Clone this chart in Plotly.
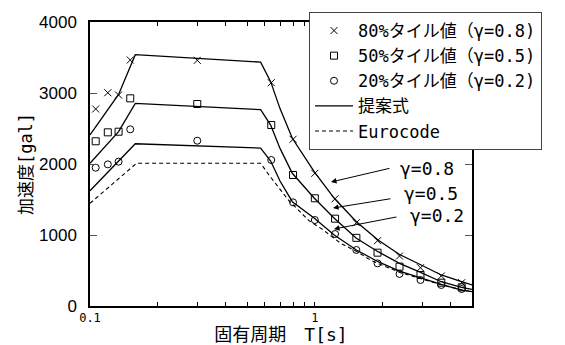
import plotly.graph_objects as go

# ---- observed percentile values (markers) ----
period_obs = [0.106, 0.12, 0.134, 0.151, 0.30, 0.64, 0.80, 1.0, 1.23, 1.53, 1.9, 2.38, 2.95, 3.65, 4.5]
acc_p80 = [2775, 3004, 2972, 3465, 3460, 3145, 2348, 1869, 1510, 1173, 920, 704, 539, 423, 328]
acc_p50 = [2320, 2446, 2455, 2925, 2845, 2549, 1845, 1517, 1230, 960, 751, 554, 437, 328, 263]
acc_p20 = [1948, 1995, 2033, 2488, 2328, 2056, 1460, 1211, 1014, 789, 601, 451, 366, 296, 239]

# ---- proposed formula curves ----
period_fit = [0.1, 0.134, 0.159, 0.574, 0.636, 0.70, 0.794, 0.995, 1.22, 1.53, 1.91, 2.38, 2.97, 3.65, 4.49, 5.0]
fit_g08 = [2410, 2980, 3540, 3435, 3160, 2780, 2362, 1890, 1517, 1187, 930, 725, 577, 437, 342, 296]
fit_g05 = [2010, 2455, 2855, 2765, 2549, 2220, 1869, 1517, 1235, 953, 765, 601, 469, 342, 263, 235]
fit_g02 = [1624, 2033, 2285, 2225, 2042, 1760, 1469, 1235, 1000, 789, 624, 490, 390, 306, 225, 201]

# ---- Eurocode curve ----
period_ec = [0.1, 0.13, 0.161, 0.574, 0.625, 0.768, 0.944, 1.08, 1.3, 1.55, 1.78, 2.4, 3.0, 3.65, 4.5, 5.0]
acc_ec = [1446, 1760, 2010, 2010, 1845, 1480, 1200, 1080, 885, 760, 640, 470, 375, 300, 228, 200]

# ---- axis ticks ----
x_tickvals = [0.1, 0.2, 0.3, 0.4, 0.5, 0.6, 0.7, 0.8, 0.9, 1, 2, 3, 4, 5]
x_ticktext = ["0.1", "", "", "", "", "", "", "", "", "1", "", "", "", ""]
y_tickvals = [0, 1000, 2000, 3000, 4000]

MONO = "DejaVu Sans Mono, Noto Sans CJK JP, sans-serif"

fig = go.Figure()
fig.add_trace(go.Scatter(x=period_obs, y=acc_p80, mode="markers", name="80%タイル値（γ=0.8)",
                         marker=dict(symbol="x-thin-open", size=7, color="black",
                                     line=dict(color="black", width=1))))
fig.add_trace(go.Scatter(x=period_obs, y=acc_p50, mode="markers", name="50%タイル値（γ=0.5)",
                         marker=dict(symbol="square-open", size=7, color="black",
                                     line=dict(color="black", width=1))))
fig.add_trace(go.Scatter(x=period_obs, y=acc_p20, mode="markers", name="20%タイル値（γ=0.2)",
                         marker=dict(symbol="circle-open", size=7, color="black",
                                     line=dict(color="black", width=1))))
fig.add_trace(go.Scatter(x=period_fit, y=fit_g08, mode="lines", name="提案式",
                         line=dict(color="black", width=1.3)))
fig.add_trace(go.Scatter(x=period_fit, y=fit_g05, mode="lines", showlegend=False,
                         line=dict(color="black", width=1.3)))
fig.add_trace(go.Scatter(x=period_fit, y=fit_g02, mode="lines", showlegend=False,
                         line=dict(color="black", width=1.3)))
fig.add_trace(go.Scatter(x=period_ec, y=acc_ec, mode="lines", name="Eurocode",
                         line=dict(color="black", width=1.1, dash="4px,3px")))

L, R, T, B = 90, 93, 22, 39
W, H = 565, 345
pw, ph = W - L - R, H - T - B


def px(xp):
    return (xp - L) / pw


def py(yp):
    return (H - B - yp) / ph


annos = []
# arrows (tip, tail in pixels)
for tip, tail in [((331, 182), (391, 168)), ((333, 208), (392, 198.5)), ((334, 229), (398, 216.7))]:
    annos.append(dict(xref="paper", yref="paper", x=px(tip[0]), y=py(tip[1]), text="",
                      showarrow=True, ax=tail[0] - tip[0], ay=tail[1] - tip[1],
                      arrowhead=2, arrowsize=1.1, arrowwidth=1, arrowcolor="black"))
for txt, (xl, yc) in [("γ=0.8", (398, 168)), ("γ=0.5", (401.5, 193)), ("γ=0.2", (408, 215.5))]:
    annos.append(dict(xref="paper", yref="paper", x=px(xl), y=py(yc), text=txt,
                      showarrow=False, xanchor="left", yanchor="middle",
                      font=dict(family=MONO, size=18, color="black")))

fig.update_layout(
    width=W, height=H,
    margin=dict(l=L, r=R, t=T, b=B, autoexpand=False),
    paper_bgcolor="white", plot_bgcolor="white",
    showlegend=True,
    legend=dict(x=px(309), y=py(12), xanchor="left", yanchor="top",
                bgcolor="white", bordercolor="#444", borderwidth=1,
                font=dict(family=MONO, size=17, color="black"),
                itemwidth=38, tracegroupgap=0),
    annotations=annos,
    xaxis=dict(type="log", range=[-1, 0.69897], tickmode="array",
               tickvals=x_tickvals, ticktext=x_ticktext, automargin=False,
               ticks="inside", ticklen=4, tickwidth=1, tickcolor="black",
               showline=True, linecolor="black", linewidth=1.5, mirror="ticks",
               showgrid=False, zeroline=False,
               tickfont=dict(family=MONO, size=12, color="black"),
               title=dict(text="固有周期　T[s]", standoff=8,
                          font=dict(family=MONO, size=18, color="black"))),
    yaxis=dict(range=[0, 4000], tickmode="array", tickvals=y_tickvals, automargin=False,
               ticks="inside", ticklen=7, tickwidth=1, tickcolor="#555",
               showline=True, linecolor="black", linewidth=1.5, mirror="ticks",
               showgrid=False, zeroline=False, ticklabelstandoff=8,
               tickfont=dict(family="Liberation Sans, Arial, sans-serif", size=17, color="black"),
               title=dict(text="加速度[gal]", standoff=2,
                          font=dict(family=MONO, size=17, color="black"))),
)

fig.write_html("out.html")
